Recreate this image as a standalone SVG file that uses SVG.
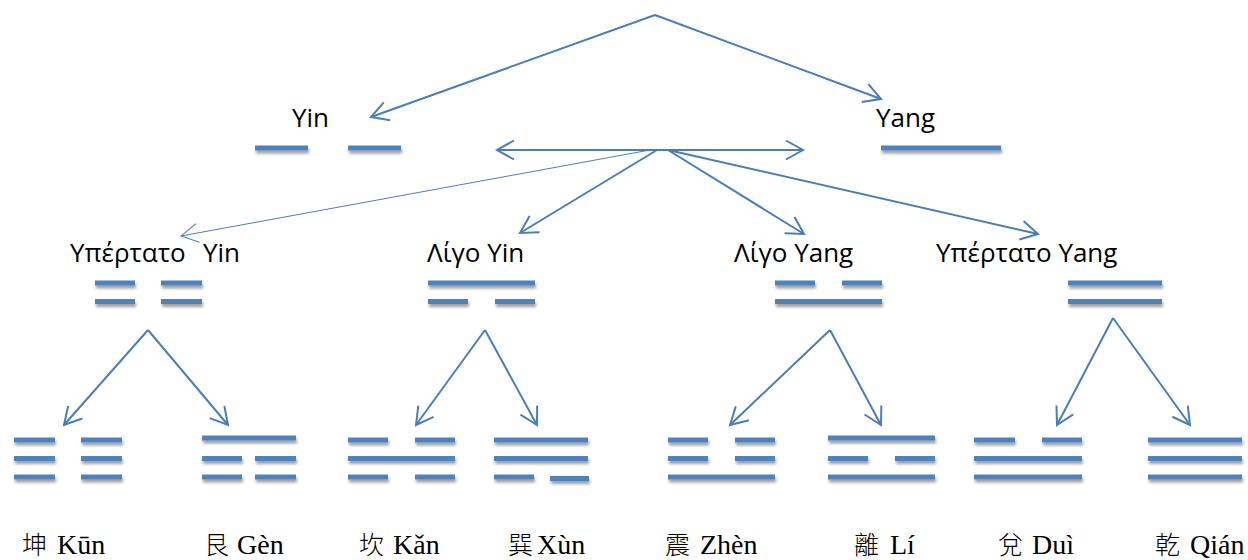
<svg xmlns="http://www.w3.org/2000/svg" width="1248" height="560" viewBox="0 0 1248 560">
<style>
.bar{fill:#4F81BD}
.bars{filter:url(#sh)}
.lbl{font-family:"Open Sans","Noto Sans",sans-serif;font-size:26px;fill:#000}
.cn{font-family:"Liberation Serif","Noto Sans CJK TC",serif;font-size:28px;fill:#000}
.h{font-family:"Noto Sans CJK TC",sans-serif;font-size:25px;font-weight:300}
.con{fill:none;stroke:#4A7EBB;stroke-width:2}
.thin{fill:none;stroke:#4A7EBB;stroke-width:1}
</style>
<defs>
<filter id="sh" x="-10%" y="-100%" width="120%" height="400%">
<feDropShadow dx="1" dy="3" stdDeviation="1.6" flood-color="#000" flood-opacity="0.38"/>
</filter>
<marker id="ah" markerUnits="userSpaceOnUse" markerWidth="22" markerHeight="24" viewBox="-2 -2 22 24" refX="17" refY="9.5" orient="auto-start-reverse">
<path d="M0,0 L17,9.5 L0,19" fill="none" stroke="#4A7EBB" stroke-width="2"/>
</marker>
<marker id="aht" markerUnits="userSpaceOnUse" markerWidth="22" markerHeight="24" viewBox="-2 -2 22 24" refX="17" refY="9.5" orient="auto">
<path d="M0,0 L17,9.5 L0,19" fill="none" stroke="#4A7EBB" stroke-width="1"/>
</marker>
</defs>
<rect width="1248" height="560" fill="#fff"/>

<g id="connectors">
<line class="con" x1="655" y1="15" x2="371" y2="117" marker-end="url(#ah)"/>
<line class="con" x1="655" y1="15" x2="881" y2="99" marker-end="url(#ah)"/>
<line class="con" x1="497" y1="150" x2="803" y2="150" marker-start="url(#ah)" marker-end="url(#ah)"/>
<line class="thin" x1="650" y1="150" x2="181" y2="236" marker-end="url(#aht)"/>
<line class="con" x1="657" y1="150" x2="520" y2="233" marker-end="url(#ah)"/>
<line class="con" x1="668" y1="150" x2="804" y2="234" marker-end="url(#ah)"/>
<line class="con" x1="668" y1="150" x2="1038" y2="234" marker-end="url(#ah)"/>
<line class="con" x1="148" y1="330" x2="64" y2="425" marker-end="url(#ah)"/>
<line class="con" x1="148" y1="330" x2="228" y2="425" marker-end="url(#ah)"/>
<line class="con" x1="485" y1="330" x2="416" y2="425" marker-end="url(#ah)"/>
<line class="con" x1="485" y1="330" x2="537" y2="425" marker-end="url(#ah)"/>
<line class="con" x1="830" y1="330" x2="730" y2="425" marker-end="url(#ah)"/>
<line class="con" x1="830" y1="330" x2="881" y2="425" marker-end="url(#ah)"/>
<line class="con" x1="1113" y1="318" x2="1057" y2="425" marker-end="url(#ah)"/>
<line class="con" x1="1113" y1="318" x2="1190" y2="425" marker-end="url(#ah)"/>
</g>

<g id="yin">
<text class="lbl" x="292" y="127">Yin</text>
<g class="bars"><rect class="bar" x="255" y="145.5" width="53" height="5"/><rect class="bar" x="348" y="145.5" width="53" height="5"/></g>
</g>
<g id="yang">
<text class="lbl" x="876" y="127">Yang</text>
<g class="bars"><rect class="bar" x="881" y="145.5" width="120" height="5"/></g>
</g>

<g id="taiyin">
<text class="lbl" x="70" y="262">Υπέρτατο<tspan x="203">Yin</tspan></text>
<g class="bars">
<rect class="bar" x="95" y="280.5" width="40" height="5"/><rect class="bar" x="161" y="280.5" width="41" height="5"/>
<rect class="bar" x="95" y="299" width="40" height="5"/><rect class="bar" x="161" y="299" width="41" height="5"/>
</g>
</g>
<g id="shaoyin">
<text class="lbl" x="427" y="262">Λίγο Yin</text>
<g class="bars">
<rect class="bar" x="428" y="280.5" width="107" height="5"/>
<rect class="bar" x="428" y="299" width="40" height="5"/><rect class="bar" x="495" y="299" width="40" height="5"/>
</g>
</g>
<g id="shaoyang">
<text class="lbl" x="734" y="262">Λίγο Yang</text>
<g class="bars">
<rect class="bar" x="775" y="280.5" width="40" height="5"/><rect class="bar" x="842" y="280.5" width="40" height="5"/>
<rect class="bar" x="775" y="299" width="107" height="5"/>
</g>
</g>
<g id="taiyang">
<text class="lbl" x="936" y="262">Υπέρτατο Yang</text>
<g class="bars">
<rect class="bar" x="1068" y="280.5" width="94" height="5"/>
<rect class="bar" x="1068" y="299" width="94" height="5"/>
</g>
</g>

<g id="kun">
<g class="bars">
<rect class="bar" x="14" y="437.5" width="41" height="5"/><rect class="bar" x="81" y="437.5" width="41" height="5"/>
<rect class="bar" x="14" y="456" width="41" height="5"/><rect class="bar" x="81" y="456" width="41" height="5"/>
<rect class="bar" x="14" y="474.5" width="41" height="5"/><rect class="bar" x="81" y="474.5" width="41" height="5"/>
</g>
<text class="cn" x="22" y="554"><tspan class="h">坤</tspan><tspan x="57">Kūn</tspan></text>
</g>
<g id="gen">
<g class="bars">
<rect class="bar" x="202" y="435.5" width="94" height="5"/>
<rect class="bar" x="202" y="456" width="40" height="5"/><rect class="bar" x="255" y="456" width="41" height="5"/>
<rect class="bar" x="202" y="474.5" width="40" height="5"/><rect class="bar" x="255" y="474.5" width="41" height="5"/>
</g>
<text class="cn" x="204" y="554"><tspan class="h">艮</tspan><tspan x="237">Gèn</tspan></text>
</g>
<g id="kan">
<g class="bars">
<rect class="bar" x="348" y="437.5" width="40" height="5"/><rect class="bar" x="415" y="437.5" width="40" height="5"/>
<rect class="bar" x="348" y="456" width="107" height="5"/>
<rect class="bar" x="348" y="474.5" width="40" height="5"/><rect class="bar" x="415" y="474.5" width="40" height="5"/>
</g>
<text class="cn" x="359" y="554"><tspan class="h">坎</tspan><tspan x="393">Kǎn</tspan></text>
</g>
<g id="xun">
<g class="bars">
<rect class="bar" x="494" y="437.5" width="94" height="5"/>
<rect class="bar" x="494" y="456" width="94" height="5"/>
<rect class="bar" x="494" y="474.5" width="40" height="5"/><rect class="bar" x="550" y="476" width="39" height="5"/>
</g>
<text class="cn" x="508" y="554"><tspan class="h">巽</tspan><tspan x="537">Xùn</tspan></text>
</g>
<g id="zhen">
<g class="bars">
<rect class="bar" x="668" y="437.5" width="40" height="5"/><rect class="bar" x="735" y="437.5" width="40" height="5"/>
<rect class="bar" x="668" y="456" width="40" height="5"/><rect class="bar" x="735" y="456" width="40" height="5"/>
<rect class="bar" x="668" y="474.5" width="107" height="5"/>
</g>
<text class="cn" x="665" y="554"><tspan class="h">震</tspan><tspan x="700">Zhèn</tspan></text>
</g>
<g id="li">
<g class="bars">
<rect class="bar" x="828" y="435.5" width="107" height="5"/>
<rect class="bar" x="828" y="456" width="40" height="5"/><rect class="bar" x="895" y="456" width="40" height="5"/>
<rect class="bar" x="828" y="474.5" width="107" height="5"/>
</g>
<text class="cn" x="854" y="554"><tspan class="h">離</tspan><tspan x="890">Lí</tspan></text>
</g>
<g id="dui">
<g class="bars">
<rect class="bar" x="974" y="437.5" width="41" height="5"/><rect class="bar" x="1042" y="437.5" width="40" height="5"/>
<rect class="bar" x="974" y="456" width="108" height="5"/>
<rect class="bar" x="974" y="474.5" width="108" height="5"/>
</g>
<text class="cn" x="998" y="554"><tspan class="h">兌</tspan><tspan x="1032">Duì</tspan></text>
</g>
<g id="qian">
<g class="bars">
<rect class="bar" x="1148" y="437.5" width="94" height="5"/>
<rect class="bar" x="1148" y="456" width="94" height="5"/>
<rect class="bar" x="1148" y="474.5" width="94" height="5"/>
</g>
<text class="cn" x="1155" y="554"><tspan class="h">乾</tspan><tspan x="1190">Qián</tspan></text>
</g>
</svg>
